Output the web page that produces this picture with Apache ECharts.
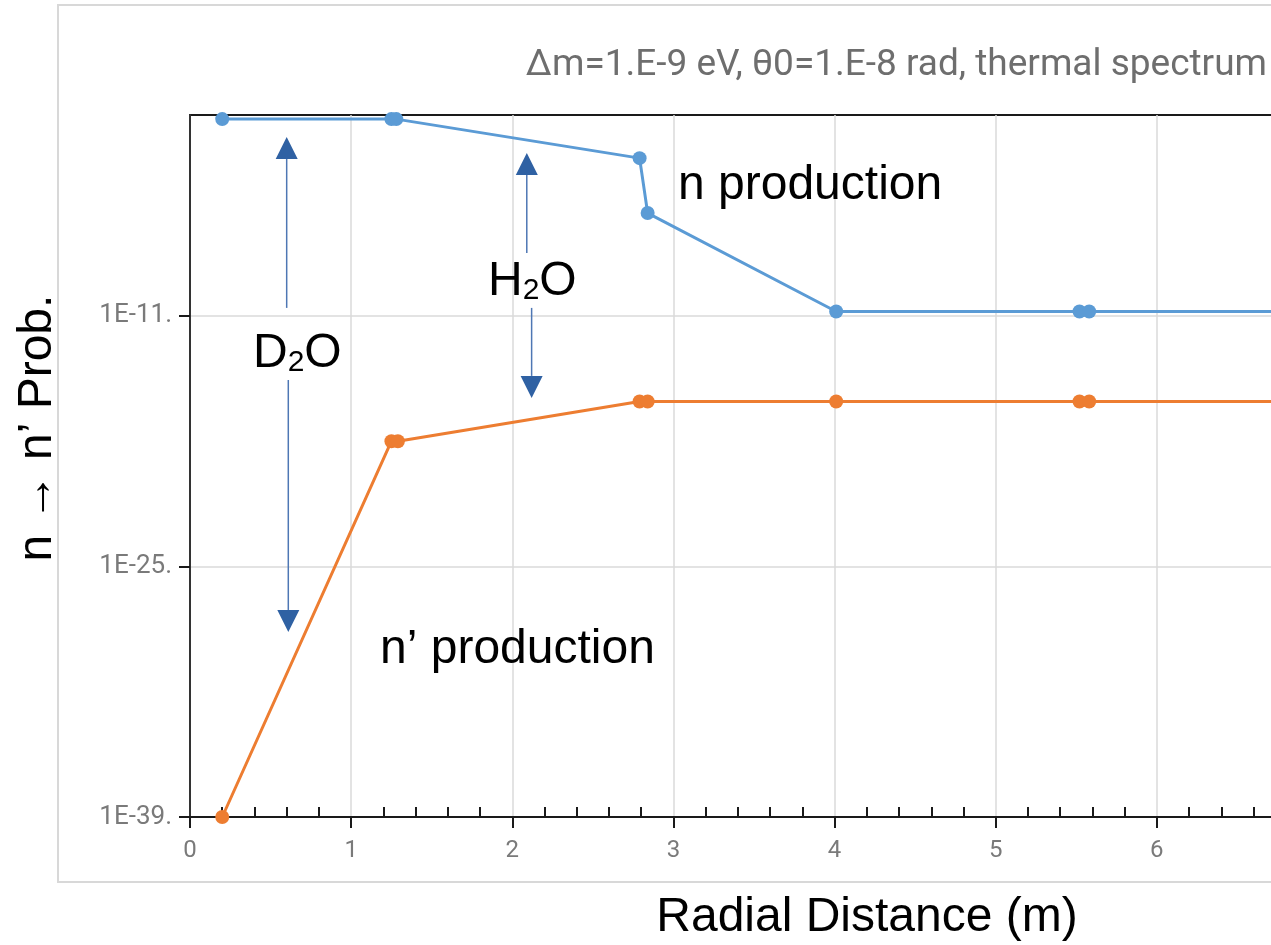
<!DOCTYPE html>
<html>
<head>
<meta charset="utf-8">
<title>n → n' oscillation probability vs radial distance</title>
<script src="https://cdn.jsdelivr.net/npm/echarts@6/dist/echarts.min.js"></script>
<style>
  html, body { margin: 0; padding: 0; background: #fff; overflow: hidden; width: 1271px; height: 945px; }
  /* the plot runs on past the right edge of the page */
  #chart { width: 1340px; height: 945px; }
</style>
</head>
<body>
<div id="chart"></div>
<script>
// Radial distance (m) of each evaluation point
const nDistance   = [0.2, 1.25, 1.28, 2.79, 2.84, 4.01, 5.52, 5.58, 7.0];
// log10 of the n production probability at those points
const nLog10Prob  = [0, 0, 0, -2.18, -5.25, -10.75, -10.75, -10.75, -10.75];

const npDistance  = [0.2, 1.25, 1.29, 2.79, 2.84, 4.01, 5.52, 5.58, 7.0];
// log10 of the n' production probability
const npLog10Prob = [-39, -18, -18, -15.78, -15.78, -15.78, -15.78, -15.78, -15.78];

// Decades that carry a tick label on the probability axis
const yTickDecades = [-39, -25, -11];

const titleText = 'Δm=1.E-9 eV, θ0=1.E-8 rad, thermal spectrum';

// Annotation arrows, given in data space: [x, fromLog10, toLog10]
const arrows = [
  [0.60, -10.55, -1.0],   // D2O, up to n production
  [0.61, -14.58, -28.66], // D2O, down to n' production
  [2.09, -7.48, -1.89],   // H2O, up
  [2.12, -10.55, -15.58]  // H2O, down
];

const BLUE = '#5b9bd5';
const ORANGE = '#ed7d31';
const AXIS_FONT = 'Roboto, "Liberation Sans", sans-serif';
const BIG_FONT = '"Liberation Sans", Arial, sans-serif';

const chart = echarts.init(document.getElementById('chart'), null, { renderer: 'canvas' });

function pairs(xs, ys) {
  return xs.map((x, i) => [x, ys[i]]);
}

chart.setOption({
  animation: false,
  backgroundColor: '#fff',
  grid: {
    left: 190, top: 115, right: 22, bottom: 128,
    show: true, borderColor: '#1a1a1a', borderWidth: 2,
    containLabel: false
  },
  xAxis: [
    {
      type: 'value', position: 'bottom', min: 0, max: 7, interval: 1,
      axisLine: { show: true, onZero: false, lineStyle: { color: '#1a1a1a', width: 2 } },
      axisTick: { show: true, inside: false, length: 11, lineStyle: { color: '#1a1a1a', width: 2 } },
      minorTick: { show: false },
      axisLabel: {
        show: true, margin: 22, color: '#7a7a7a', fontSize: 24, fontFamily: AXIS_FONT,
        showMaxLabel: false
      },
      splitLine: { show: true, lineStyle: { color: '#dadada', width: 1.5 } }
    },
    {
      // second bottom axis only carries the inward minor ticks
      type: 'value', position: 'bottom', min: 0, max: 7, interval: 1,
      axisLine: { show: false, onZero: false },
      axisTick: { show: false, inside: true },
      minorTick: { show: true, splitNumber: 5, length: 10, lineStyle: { color: '#1a1a1a', width: 2 } },
      axisLabel: { show: false },
      splitLine: { show: false }
    }
  ],
  yAxis: {
    type: 'value', min: -39, max: 0.23,
    axisLine: { show: true, onZero: false, lineStyle: { color: '#333', width: 2 } },
    axisTick: { show: true, inside: false, length: 11, customValues: yTickDecades,
                lineStyle: { color: '#1a1a1a', width: 2 } },
    axisLabel: {
      show: true, margin: 18, color: '#7a7a7a', fontSize: 26, fontFamily: AXIS_FONT,
      customValues: yTickDecades,
      formatter: v => '1E' + v + '.'
    },
    splitLine: { show: true, lineStyle: { color: '#dadada', width: 1.5 } }
  },
  series: [
    {
      name: 'n production', type: 'line', xAxisIndex: 0,
      data: pairs(nDistance, nLog10Prob),
      symbol: 'circle', symbolSize: 14, showAllSymbol: true,
      lineStyle: { color: BLUE, width: 3 },
      itemStyle: { color: BLUE },
      clip: true, z: 3
    },
    {
      name: "n' production", type: 'line', xAxisIndex: 0,
      data: pairs(npDistance, npLog10Prob),
      symbol: 'circle', symbolSize: 14, showAllSymbol: true,
      lineStyle: { color: ORANGE, width: 3 },
      itemStyle: { color: ORANGE },
      clip: true, z: 3
    }
  ]
});

// Annotation layer: arrows in data space, captions and frame around the plot
function arrowGraphics(a) {
  const from = chart.convertToPixel({ gridIndex: 0 }, [a[0], a[1]]);
  const tip = chart.convertToPixel({ gridIndex: 0 }, [a[0], a[2]]);
  const dir = tip[1] < from[1] ? -1 : 1;
  const headLen = 22, headHalf = 11;
  const base = tip[1] - dir * headLen;
  return [
    { type: 'line', z: 10, shape: { x1: from[0], y1: from[1], x2: tip[0], y2: base },
      style: { stroke: '#4e77b4', lineWidth: 1.5 } },
    { type: 'polygon', z: 10,
      shape: { points: [[tip[0], tip[1]], [tip[0] - headHalf, base], [tip[0] + headHalf, base]] },
      style: { fill: '#2f61a3' } }
  ];
}

function bigText(x, y, text, extra) {
  return {
    type: 'text', x: x, y: y, z: 20,
    style: Object.assign({
      text: text, font: '48px ' + BIG_FONT, fill: '#000',
      align: 'left', verticalAlign: 'middle'
    }, extra || {})
  };
}

function chemText(x, y, a, b) {
  return {
    type: 'text', x: x, y: y, z: 20,
    style: {
      text: '{m|' + a + '}{s|2}{m|' + b + '}',
      align: 'left', verticalAlign: 'middle',
      rich: {
        m: { fontSize: 48, fontFamily: BIG_FONT, fill: '#000', lineHeight: 54, verticalAlign: 'bottom' },
        s: { fontSize: 30, fontFamily: BIG_FONT, fill: '#000', lineHeight: 31, verticalAlign: 'bottom' }
      }
    }
  };
}

const graphics = [
  { type: 'rect', z: 0, silent: true,
    shape: { x: 58, y: 5, width: 1272, height: 877 },
    style: { fill: 'none', stroke: '#d8d8d8', lineWidth: 2 } },
  {
    type: 'text', x: 1267, y: 66, z: 20,
    style: { text: titleText, font: '37px ' + AXIS_FONT, fill: '#6e6e6e',
             align: 'right', verticalAlign: 'middle' }
  },
  bigText(678, 186, 'n production'),
  bigText(380, 650, 'n\u2019 production'),
  chemText(488, 279, 'H', 'O'),
  chemText(253, 351, 'D', 'O'),
  bigText(867, 918, 'Radial Distance (m)', { align: 'center' }),
  {
    type: 'text', x: 38, y: 428, rotation: Math.PI / 2, z: 20,
    style: { text: 'n \u2192 n\u2019 Prob.', font: '48px ' + BIG_FONT, fill: '#000',
             align: 'center', verticalAlign: 'middle' }
  }
];
arrows.forEach(a => graphics.push(...arrowGraphics(a)));

chart.setOption({ graphic: graphics });
</script>
</body>
</html>
